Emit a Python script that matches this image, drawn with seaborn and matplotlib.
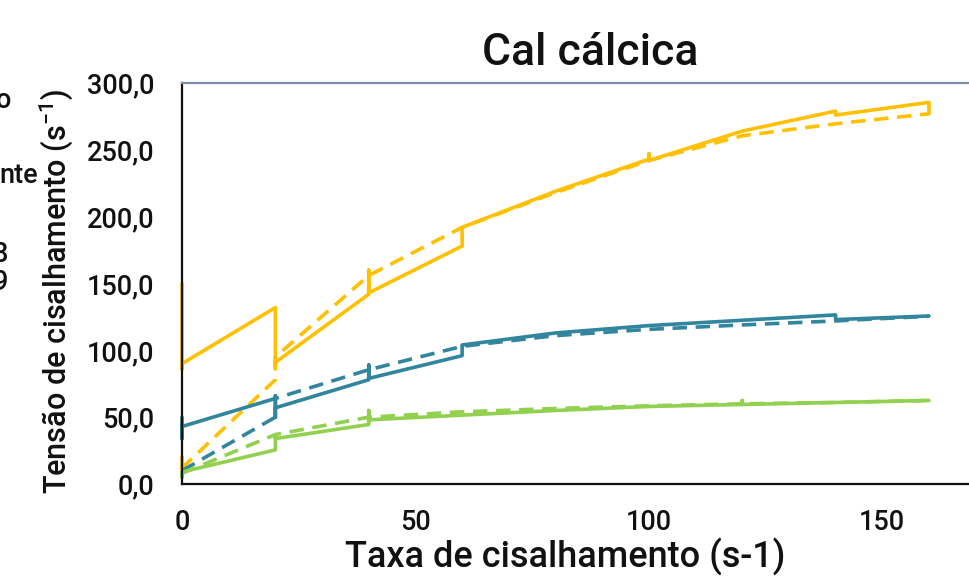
import matplotlib
matplotlib.use("Agg")
import matplotlib.pyplot as plt
import seaborn as sns
import pandas as pd

# ---- data ----
yellow_solid_x = [0, 0, 0, 20, 20, 20, 40, 40, 40, 60, 60, 80, 100, 100, 100, 120, 140, 140, 160, 160]
yellow_solid_y = [150, 86, 90, 132, 88, 91, 142, 160, 143, 178, 192, 219, 243, 247, 242, 264, 279, 276, 285.5, 277]

yellow_dash_x = [0, 0, 0, 20, 20, 40, 60, 80, 100, 120, 140, 160]
yellow_dash_y = [10, 20, 12, 78, 95, 156, 192, 218, 242, 260.5, 269.5, 277]

blue_solid_x = [0, 0, 0, 20, 20, 20, 20, 40, 40, 40, 60, 60, 80, 100, 120, 140, 140, 160]
blue_solid_y = [50, 34, 43, 64, 66, 50, 57, 78, 89, 79, 96, 104, 113, 118.5, 122.5, 126.5, 123, 125.7]

blue_dash_x = [0, 20, 20, 40, 60, 80, 100, 120, 140, 160]
blue_dash_y = [10, 50, 64, 85.5, 103, 111, 115.7, 119, 122, 125.5]

green_solid_x = [0, 0, 0, 20, 20, 20, 40, 40, 40, 60, 80, 100, 120, 120, 120, 140, 160]
green_solid_y = [9, 5, 9, 25.5, 36.5, 34, 44.5, 55, 48, 51.5, 55, 58, 59.5, 62.5, 59.5, 61, 62.5]

green_dash_x = [0, 20, 40, 60, 80, 100, 120, 140, 160]
green_dash_y = [8, 37, 50, 54, 56.5, 58.5, 60, 61, 62.5]

x_ticks = [0, 50, 100, 150]
y_ticks = [0, 50, 100, 150, 200, 250, 300]
y_tick_labels = ["0,0", "50,0", "100,0", "150,0", "200,0", "250,0", "300,0"]
left_fragments = ["o", "nte", "8", "9"]

title = "Cal cálcica"
xlabel = "Taxa de cisalhamento (s-1)"
ylabel = "Tensão de cisalhamento (s$^{-1}$)"

YELLOW = "#FFC000"
BLUE = "#31859C"
GREEN = "#92D050"

# ---- style ----
sns.set_theme(style="white")
plt.rcParams["font.family"] = ["Roboto", "DejaVu Sans"]
plt.rcParams["font.weight"] = "medium"
plt.rcParams["mathtext.fontset"] = "custom"
plt.rcParams["mathtext.rm"] = "Roboto:medium"
plt.rcParams["mathtext.it"] = "Roboto:medium"

W, H = 969, 583
fig = plt.figure(figsize=(W / 100, H / 100), dpi=100)
ax_left, ax_right, ax_top, ax_bot = 182, 999, 83, 484
ax_w, ax_h = ax_right - ax_left, ax_bot - ax_top
ax = fig.add_axes([ax_left / W, 1 - ax_bot / H, ax_w / W, ax_h / H])

lw = 2.6
dash = (0, (4.0, 2.4))
series = [
    (yellow_solid_x, yellow_solid_y, YELLOW, "-"),
    (yellow_dash_x, yellow_dash_y, YELLOW, dash),
    (blue_solid_x, blue_solid_y, BLUE, "-"),
    (blue_dash_x, blue_dash_y, BLUE, dash),
    (green_solid_x, green_solid_y, GREEN, "-"),
    (green_dash_x, green_dash_y, GREEN, dash),
]
for xs, ys, c, ls in series:
    df = pd.DataFrame({"x": xs, "y": ys})
    sns.lineplot(data=df, x="x", y="y", sort=False, estimator=None, color=c,
                 linestyle=ls, linewidth=lw, ax=ax, clip_on=False)

ax.set_xlim(0, 175)
ax.set_ylim(0, 300)
ax.set_xticks(x_ticks)
ax.set_xticklabels([str(t) for t in x_ticks])
ax.set_yticks(y_ticks)
ax.set_yticklabels(y_tick_labels)
ax.tick_params(axis="both", which="major", labelsize=19.5, colors="#333333",
               labelcolor="#111111", direction="out", length=7, width=1.3)
ax.tick_params(axis="y", pad=13)
ax.tick_params(axis="x", pad=11)

for s in ["left", "bottom"]:
    ax.spines[s].set_color("#111111")
    ax.spines[s].set_linewidth(1.6)
ax.spines["right"].set_visible(False)
ax.spines["top"].set_color("#7C8DA5")
ax.spines["top"].set_linewidth(1.6)

ax.set_title(title, fontsize=32, color="#111111", pad=13, fontweight="medium")
ax.set_xlabel(xlabel, fontsize=26, color="#111111", fontweight="medium")
ax.set_ylabel(ylabel, fontsize=22, color="#111111", fontweight="medium")
ax.xaxis.set_label_coords((565 - ax_left) / ax_w, -(538 - ax_bot) / ax_h)
ax.xaxis.label.set_va("top")
ax.yaxis.set_label_coords(-(ax_left - 75) / ax_w, 0.48)

# cropped legend fragments at the far left (from a legend outside the crop)
frag_pos = [(11, 100), (38, 176), (8, 255), (8, 283)]
for txt, (px, py) in zip(left_fragments, frag_pos):
    fig.text(px / W, 1 - py / H, txt, ha="right", va="center", fontsize=19.5,
             color="#111111", fontweight="medium")

fig.savefig("out.png", dpi=100)
